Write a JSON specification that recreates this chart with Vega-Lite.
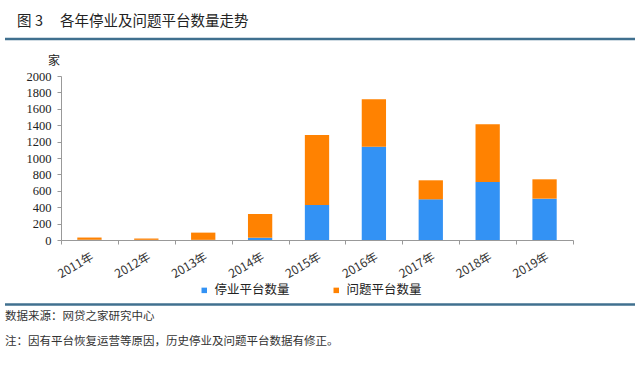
{
  "$schema": "https://vega.github.io/schema/vega-lite/v6.json",
  "width": 512,
  "height": 164,
  "autosize": {"type": "none"},
  "padding": {"left": 61, "top": 76, "right": 67, "bottom": 125},
  "background": "white",
  "config": {"view": {"stroke": null}, "font": "Noto Sans CJK SC"},
  "layer": [
    {
      "data": {
        "values": [
          {"year": "2011年", "series": "停业平台数量", "count": 3},
          {"year": "2011年", "series": "问题平台数量", "count": 27},
          {"year": "2012年", "series": "停业平台数量", "count": 2},
          {"year": "2012年", "series": "问题平台数量", "count": 16},
          {"year": "2013年", "series": "停业平台数量", "count": 2},
          {"year": "2013年", "series": "问题平台数量", "count": 88},
          {"year": "2014年", "series": "停业平台数量", "count": 28},
          {"year": "2014年", "series": "问题平台数量", "count": 289},
          {"year": "2015年", "series": "停业平台数量", "count": 427},
          {"year": "2015年", "series": "问题平台数量", "count": 853},
          {"year": "2016年", "series": "停业平台数量", "count": 1138},
          {"year": "2016年", "series": "问题平台数量", "count": 578},
          {"year": "2017年", "series": "停业平台数量", "count": 496},
          {"year": "2017年", "series": "问题平台数量", "count": 232},
          {"year": "2018年", "series": "停业平台数量", "count": 707},
          {"year": "2018年", "series": "问题平台数量", "count": 704},
          {"year": "2019年", "series": "停业平台数量", "count": 504},
          {"year": "2019年", "series": "问题平台数量", "count": 236}
        ]
      },
      "mark": {"type": "bar", "width": {"band": 0.427}},
      "encoding": {
        "x": {
          "field": "year",
          "type": "nominal",
          "sort": null,
          "scale": {"paddingInner": 0, "paddingOuter": 0},
          "axis": {
            "title": null,
            "tickBand": "extent",
            "tickSize": 4,
            "tickColor": "#999",
            "domainColor": "#999",
            "labelAngle": -30,
            "labelFont": "Noto Sans CJK SC",
            "labelFontSize": 12,
            "labelColor": "#333",
            "labelPadding": 7
          }
        },
        "y": {
          "field": "count",
          "type": "quantitative",
          "stack": "zero",
          "scale": {"domain": [0, 2000], "nice": false},
          "axis": {
            "values": [0, 200, 400, 600, 800, 1000, 1200, 1400, 1600, 1800, 2000],
            "format": "d",
            "grid": false,
            "tickSize": 4,
            "tickColor": "#999",
            "domainColor": "#999",
            "labelFont": "Liberation Serif",
            "labelFontSize": 12.5,
            "labelColor": "#222",
            "labelPadding": 6,
            "title": "家",
            "titleAngle": 0,
            "titleX": -7.5,
            "titleY": -16,
            "titleAlign": "center",
            "titleBaseline": "middle",
            "titleFont": "Noto Sans CJK SC",
            "titleFontSize": 12,
            "titleFontWeight": "normal",
            "titleColor": "#222"
          }
        },
        "color": {
          "field": "series",
          "type": "nominal",
          "scale": {"domain": ["停业平台数量", "问题平台数量"], "range": ["#3392f4", "#ff8201"]},
          "legend": {
            "title": null,
            "orient": "none",
            "legendX": 137,
            "legendY": 208,
            "direction": "horizontal",
            "symbolType": "square",
            "symbolSize": 30,
            "labelFont": "Noto Sans CJK SC",
            "labelFontSize": 12.5,
            "labelColor": "#222",
            "labelOffset": 4,
            "columnPadding": 40,
            "padding": 0
          }
        },
        "order": {"field": "series", "sort": "ascending"}
      }
    },
    {
      "data": {"values": [{}]},
      "mark": {"type": "rule", "color": "#40708f", "strokeWidth": 2.5},
      "encoding": {"x": {"value": -56}, "x2": {"value": 574}, "y": {"value": -37}}
    },
    {
      "data": {"values": [{}]},
      "mark": {"type": "rule", "color": "#40708f", "strokeWidth": 2.5},
      "encoding": {"x": {"value": -56}, "x2": {"value": 574}, "y": {"value": 228.5}}
    },
    {
      "data": {"values": [{}]},
      "mark": {"type": "text", "text": "图", "align": "left", "baseline": "middle", "fontSize": 14.5, "color": "#222"},
      "encoding": {"x": {"value": -44}, "y": {"value": -54}}
    },
    {
      "data": {"values": [{}]},
      "mark": {"type": "text", "text": "3", "align": "left", "baseline": "middle", "fontSize": 14.5, "color": "#222"},
      "encoding": {"x": {"value": -26}, "y": {"value": -54}}
    },
    {
      "data": {"values": [{}]},
      "mark": {"type": "text", "text": "各年停业及问题平台数量走势", "align": "left", "baseline": "middle", "fontSize": 14.5, "color": "#222"},
      "encoding": {"x": {"value": -1}, "y": {"value": -54}}
    },
    {
      "data": {"values": [{}]},
      "mark": {"type": "text", "text": "数据来源：网贷之家研究中心", "align": "left", "baseline": "middle", "fontSize": 11.5, "color": "#333"},
      "encoding": {"x": {"value": -56}, "y": {"value": 241}}
    },
    {
      "data": {"values": [{}]},
      "mark": {"type": "text", "text": "注：因有平台恢复运营等原因，历史停业及问题平台数据有修正。", "align": "left", "baseline": "middle", "fontSize": 11.5, "color": "#333"},
      "encoding": {"x": {"value": -56}, "y": {"value": 266}}
    }
  ]
}
